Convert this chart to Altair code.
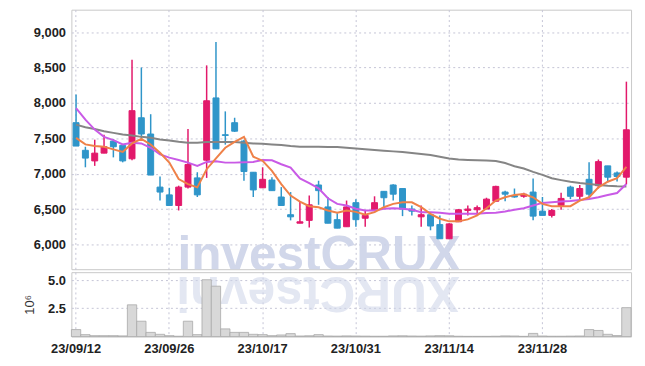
import altair as alt
import pandas as pd

dates = ["23/09/12", "23/09/13", "23/09/14", "23/09/15", "23/09/18", "23/09/19", "23/09/20",
         "23/09/21", "23/09/22", "23/09/25", "23/09/26", "23/09/27", "23/10/04", "23/10/05",
         "23/10/06", "23/10/10", "23/10/11", "23/10/12", "23/10/13", "23/10/16", "23/10/17",
         "23/10/18", "23/10/19", "23/10/20", "23/10/23", "23/10/24", "23/10/25", "23/10/26",
         "23/10/27", "23/10/30", "23/10/31", "23/11/01", "23/11/02", "23/11/03", "23/11/06",
         "23/11/07", "23/11/08", "23/11/09", "23/11/10", "23/11/13", "23/11/14", "23/11/15",
         "23/11/16", "23/11/17", "23/11/20", "23/11/21", "23/11/22", "23/11/23", "23/11/24",
         "23/11/27", "23/11/28", "23/11/29", "23/11/30", "23/12/01", "23/12/04", "23/12/05",
         "23/12/06", "23/12/07", "23/12/08", "23/12/11"]

opens = [7720, 7330, 7180, 7290, 7460, 7400, 7210, 7790, 7560, 6810, 6700, 6550, 6810, 6940,
         7190, 8070, 7550, 7720, 7460, 7020, 6800, 6910, 6670, 6420, 6300, 6340, 6840, 6530,
         6350, 6250, 6590, 6370, 6480, 6750, 6840, 6790, 6500, 6390, 6420, 6280, 6080, 6320,
         6480, 6490, 6500, 6610, 6740, 6690, 6680, 6740, 6470, 6410, 6550, 6810, 6680, 6920,
         6830, 7110, 7010, 6950]
highs = [8120, 7380, 7480, 7550, 7490, 7410, 8610, 8500, 7840, 6960, 6800, 6830, 7630, 7020,
         8530, 8860, 7880, 7790, 7480, 7020, 7090, 6950, 6810, 6740, 6600, 6690, 6900, 6670,
         6440, 6620, 6640, 6480, 6680, 6750, 6850, 6790, 6550, 6550, 6420, 6410, 6300, 6500,
         6550, 6550, 6660, 6830, 6760, 6790, 6730, 6930, 6670, 6500, 6730, 6830, 6840, 7160,
         7200, 7110, 7030, 8300]
lows = [7390, 7090, 7110, 7290, 7230, 7160, 7190, 7480, 6980, 6620, 6550, 6480, 6790, 6670,
        6940, 7350, 7410, 7590, 6900, 6670, 6800, 6760, 6550, 6340, 6300, 6240, 6560, 6300,
        6230, 6250, 6250, 6250, 6480, 6530, 6620, 6400, 6410, 6250, 6200, 6080, 6080, 6320,
        6410, 6400, 6500, 6610, 6610, 6660, 6660, 6340, 6410, 6380, 6490, 6640, 6630, 6670,
        6790, 6880, 6890, 6850]
closes = [7390, 7220, 7290, 7380, 7380, 7180, 7890, 7560, 6980, 6740, 6550, 6810, 7130, 6700,
          8030, 7350, 7540, 7600, 7030, 6770, 6920, 6760, 6550, 6390, 6320, 6560, 6760, 6300,
          6230, 6530, 6350, 6410, 6590, 6660, 6710, 6500, 6470, 6420, 6260, 6080, 6290, 6490,
          6500, 6520, 6640, 6820, 6710, 6670, 6710, 6400, 6410, 6480, 6650, 6680, 6790, 6710,
          7170, 6950, 6960, 7620]

volume_m = [0.62, 0.17, 0.08, 0.08, 0.08, 0.06, 2.81, 1.36, 0.37, 0.20, 0.08, 0.03, 1.36, 0.17,
            5.03, 4.46, 0.68, 0.37, 0.37, 0.20, 0.17, 0.08, 0.14, 0.26, 0.05, 0.07, 0.17, 0.05,
            0.04, 0.06, 0.05, 0.04, 0.03, 0.03, 0.06, 0.07, 0.05, 0.04, 0.06, 0.08, 0.07, 0.03,
            0.02, 0.02, 0.02, 0.03, 0.06, 0.05, 0.02, 0.28, 0.05, 0.03, 0.03, 0.04, 0.05, 0.62,
            0.54, 0.20, 0.09, 2.56]

ma_short = [7506, 7413, 7390, 7380, 7343, 7306, 7427, 7492, 7413, 7296, 7156, 6923, 6853, 6806,
            7063, 7215, 7366, 7450, 7520, 7240, 7180, 7040, 6853, 6690, 6606, 6540, 6526, 6480,
            6447, 6480, 6460, 6419, 6456, 6526, 6573, 6596, 6596, 6526, 6433, 6363, 6326, 6326,
            6354, 6410, 6510, 6620, 6666, 6699, 6713, 6666, 6573, 6540, 6540, 6540, 6620, 6666,
            6806, 6886, 6937, 7096]
ma_mid = [7926, 7763, 7623, 7520, 7474, 7413, 7436, 7427, 7366, 7273, 7226, 7194, 7156, 7110,
          7166, 7175, 7156, 7156, 7161, 7166, 7194, 7189, 7133, 7086, 6932, 6867, 6792, 6652,
          6573, 6550, 6505, 6480, 6480, 6503, 6512, 6503, 6489, 6456, 6456, 6447, 6433, 6433,
          6433, 6433, 6445, 6447, 6466, 6489, 6512, 6550, 6587, 6596, 6606, 6615, 6629, 6643,
          6666, 6699, 6727, 6853]
ma_long = [7693, 7656, 7632, 7600, 7576, 7553, 7539, 7520, 7506, 7483, 7469, 7450, 7436, 7436,
           7446, 7446, 7446, 7446, 7436, 7427, 7422, 7413, 7404, 7390, 7380, 7380, 7380, 7376,
           7376, 7366, 7357, 7345, 7335, 7325, 7315, 7305, 7292, 7278, 7264, 7240, 7215, 7200,
           7194, 7190, 7186, 7180, 7150, 7105, 7072, 7025, 6982, 6935, 6909, 6886, 6867, 6853,
           6839, 6828, 6822, 6820]

price_ticks = [6000, 6500, 7000, 7500, 8000, 8500, 9000]
volume_ticks = [2.5, 5.0]
label_dates = dates[::10]

df = pd.DataFrame({
    "date": dates, "open": opens, "high": highs, "low": lows, "close": closes,
    "vol": volume_m, "ma5": ma_short, "ma20": ma_mid, "ma60": ma_long,
})
df["dir"] = ["up" if c > o else "down" for o, c in zip(opens, closes)]

W, H1, H2 = 565, 262, 65
RED, BLUE = "#e2196b", "#2f95c9"
GRID = "#c4c4d6"
FONT = "Liberation Sans"

xscale = alt.Scale(domain=dates, paddingInner=0, paddingOuter=0)
yscale = alt.Scale(domain=[5650, 9317], nice=False, zero=False)
vscale = alt.Scale(domain=[0, 5.7], nice=False)

x_top = alt.X("date:N", scale=xscale, sort=None,
              axis=alt.Axis(values=label_dates, labels=False, ticks=False, tickSize=0,
                            domain=False, title=None, grid=True, gridDash=[2, 3],
                            gridColor=GRID, minExtent=0, maxExtent=0, labelPadding=0))
x_bot = alt.X("date:N", scale=xscale, sort=None,
              axis=alt.Axis(values=label_dates, labels=True, ticks=False, tickSize=0,
                            domain=False, title=None, grid=True, gridDash=[2, 3],
                            gridColor=GRID, labelAngle=0, labelPadding=6, labelFont=FONT,
                            labelFontSize=13, labelFontWeight="bold", labelColor="#222"))
y_price_axis = alt.Axis(values=price_ticks, format=",d", title=None, ticks=False, tickSize=0,
                        domain=False, grid=True, gridDash=[2, 3], gridColor=GRID,
                        labelPadding=6, labelFont=FONT, labelFontSize=13,
                        labelFontWeight="bold", labelColor="#222", minExtent=58, maxExtent=58)
color = alt.Color("dir:N", scale=alt.Scale(domain=["up", "down"], range=[RED, BLUE]), legend=None)

base = alt.Chart(df)

wm = alt.Chart(pd.DataFrame({"t": ["investCRUX"]})).mark_text(
    font=FONT, fontSize=50, fontWeight="bold", color="#cdd3e8", align="left",
    baseline="alphabetic", opacity=0.9, clip=True
).encode(text="t:N", x=alt.value(107), y=alt.value(264))

wicks = base.mark_rule(strokeWidth=1.5).encode(
    x=x_top, y=alt.Y("low:Q", scale=yscale, axis=y_price_axis), y2="high:Q", color=color)
bodies = base.mark_bar(size=6, strokeWidth=1).encode(
    x=x_top, y=alt.Y("open:Q", scale=yscale), y2="close:Q", color=color, stroke=color)
l60 = base.mark_line(color="#858585", strokeWidth=2).encode(x=x_top, y=alt.Y("ma60:Q", scale=yscale))
l20 = base.mark_line(color="#c95ae6", strokeWidth=2).encode(x=x_top, y=alt.Y("ma20:Q", scale=yscale))
l5 = base.mark_line(color="#ef8148", strokeWidth=2).encode(x=x_top, y=alt.Y("ma5:Q", scale=yscale))

price = alt.layer(wm, wicks, bodies, l60, l20, l5).properties(width=W, height=H1)

wm2 = alt.Chart(pd.DataFrame({"t": ["XURCtsevni"]})).mark_text(
    font=FONT, fontSize=50, fontWeight="bold", color="#cdd3e8", align="left",
    baseline="alphabetic", angle=180, opacity=0.55, clip=True
).encode(text="t:N", x=alt.value(392), y=alt.value(5))

vbars = base.mark_bar(color="#d8d8d8", stroke="#a9a9a9", strokeWidth=0.8).encode(
    x=x_bot,
    y=alt.Y("vol:Q", scale=vscale,
            axis=alt.Axis(values=volume_ticks, format=".1f", title="10⁶", ticks=False,
                          tickSize=0, domain=False, grid=True, gridDash=[2, 3], gridColor=GRID,
                          labelPadding=6, labelFont=FONT, labelFontSize=13,
                          labelFontWeight="bold", labelColor="#222", titleFont=FONT,
                          titleFontSize=13, titleFontWeight="normal", titleColor="#333",
                          titlePadding=11)))
volume = alt.layer(wm2, vbars).properties(width=W, height=H2)

chart = alt.vconcat(price, volume, spacing=1).properties(
    padding={"left": 5, "top": -1, "right": 5, "bottom": 5}
).configure_view(stroke="#c8c8c8", strokeWidth=1)

chart.save("out.html", embed_options={"renderer": "svg", "actions": False})
